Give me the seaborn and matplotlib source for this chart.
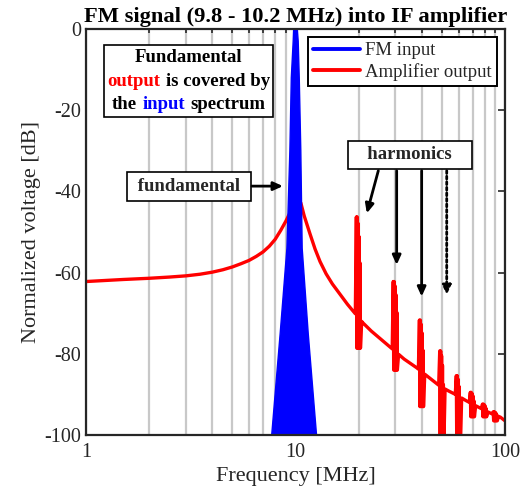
import numpy as np
import pandas as pd
import matplotlib
matplotlib.use("Agg")
import matplotlib.pyplot as plt
import seaborn as sns
from matplotlib.lines import Line2D
from matplotlib.ticker import NullFormatter, LogLocator
from matplotlib.offsetbox import TextArea, HPacker, VPacker, AnnotationBbox

# ---------------- data ----------------
# FM input spectrum outline (frequency MHz, level dB)
fm_freq = [7.7, 8.45, 9.1, 9.4, 9.55, 9.75, 9.8, 10.2, 10.3, 10.42, 10.6, 10.76, 11.5, 12.6]
fm_db = [-100, -75, -54, -30, -12, -3, 0, 0, -3, -12, -30, -54, -75, -100]

# amplifier output baseline (frequency MHz, level dB)
base_freq = [1.0, 1.5, 2.0, 2.5, 3.0, 3.5, 4.0, 4.5, 5.0, 5.5, 6.0, 6.5, 7.0, 7.5, 8.0,
             8.5, 9.0, 9.3, 9.6, 10.0, 10.3, 10.6, 11.0, 11.7, 12.4, 13.1, 14.0, 15.0,
             16.3, 17.7, 19.2, 21.0, 23.0, 25.0, 27.0, 29.3, 33.0, 37.8, 43.0, 49.0,
             54.0, 58.5, 65.0, 75.0, 85.0, 95.0, 100.0]
base_db = [-62.2, -61.7, -61.4, -61.1, -60.8, -60.4, -59.9, -59.3, -58.6, -57.8, -57.0,
           -56.0, -54.9, -53.5, -51.8, -49.6, -47.3, -45.8, -44.6, -44.0, -43.5, -42.8,
           -46.0, -50.3, -54.2, -57.3, -60.3, -62.8, -65.3, -67.8, -70.0, -72.4, -74.4,
           -76.0, -77.5, -79.0, -81.3, -83.4, -85.7, -88.0, -89.2, -90.1, -91.5, -93.2,
           -94.6, -95.6, -96.5]

# harmonics: order, spike top, spike bottom (dB)
harm_order = [2, 3, 4, 5, 6, 7, 8, 9]
harm_top = [-46.3, -62.2, -71.7, -79.3, -85.4, -89.5, -92.4, -94.3]
harm_bottom = [-78.6, -84.0, -93.0, -103.0, -103.0, -95.5, -95.5, -96.5]

# ---------------- build red trace ----------------
def base_at(f):
    return np.interp(np.log10(f), np.log10(base_freq), base_db)

rel = [0.965, 0.976, 0.981, 0.986, 0.991, 0.996, 1.001, 1.006, 1.011, 1.016, 1.021, 1.035]
spikes = []
for n, t, b in zip(harm_order, harm_top, harm_bottom):
    f0 = 10.0 * n
    lev = [base_at(f0 * rel[0]), t, b, t, b, t + 0.05 * (b - t), b, t + 0.15 * (b - t), b,
           t + 0.35 * (b - t), b, base_at(f0 * rel[-1])]
    spikes.append((f0, [f0 * r for r in rel], lev))

rf, rd = [], []
si = 0
for f, d in zip(base_freq, base_db):
    while si < len(spikes) and f > spikes[si][0] * rel[-1]:
        rf += spikes[si][1]
        rd += spikes[si][2]
        si += 1
    if si < len(spikes) and spikes[si][0] * rel[0] <= f <= spikes[si][0] * rel[-1]:
        continue
    rf.append(f)
    rd.append(d)
while si < len(spikes):
    rf = rf[:-1] + spikes[si][1] + rf[-1:]
    rd = rd[:-1] + spikes[si][2] + rd[-1:]
    si += 1

red_df = pd.DataFrame({"f": rf, "db": rd})
blue_df = pd.DataFrame({"f": fm_freq, "db": fm_db})

# ---------------- plot ----------------
sns.set_style("white")
plt.rcParams["font.family"] = ["Liberation Serif", "DejaVu Serif"]
plt.rcParams["axes.unicode_minus"] = False
dark = "#262626"

fig = plt.figure(figsize=(5.21, 4.99), dpi=100)
ax = fig.add_axes([86 / 521, 64 / 499, 419 / 521, 406 / 499])

sns.lineplot(data=red_df, x="f", y="db", sort=False, estimator=None, color="red",
             lw=2.4, ax=ax, zorder=3, legend=False)
ax.fill(fm_freq, fm_db, color="blue", zorder=4, lw=0)
sns.lineplot(data=blue_df, x="f", y="db", sort=False, estimator=None, color="blue",
             lw=1.0, ax=ax, zorder=4, legend=False)

ax.set_xscale("log")
ax.set_xlim(1, 100)
ax.set_ylim(-100, 0)
ax.set_xticks([1, 10, 100], labels=["1", "10", "100"])
ax.xaxis.set_minor_locator(LogLocator(base=10, subs=np.arange(2, 10)))
ax.xaxis.set_minor_formatter(NullFormatter())
ax.set_yticks([-100, -80, -60, -40, -20, 0])
ax.xaxis.grid(True, which="both", color="#c8c8c8", lw=1.6)
ax.yaxis.grid(False)
ax.set_axisbelow(True)
ax.tick_params(which="both", direction="in", top=True, right=True, color=dark,
               labelcolor=dark, labelsize=14.5, width=1.2)
ax.tick_params(which="major", length=5)
ax.tick_params(which="minor", length=3)
ax.tick_params(axis="x", pad=6)
for s in ax.spines.values():
    s.set_color(dark)
    s.set_linewidth(1.6)
    s.set_zorder(6)

ax.set_xlabel("Frequency [MHz]", fontsize=16, color=dark, labelpad=3)
ax.set_ylabel("Normalized voltage [dB]", fontsize=16, color=dark, labelpad=2)
ax.set_title("FM signal (9.8 - 10.2 MHz) into IF amplifier", fontsize=16.2,
             fontweight="bold", color="black", pad=5)

handles = [Line2D([], [], color="blue", lw=2.8), Line2D([], [], color="red", lw=2.8)]
leg = ax.legend(handles, ["FM input", "Amplifier output"], loc="upper right",
                fontsize=13.5, frameon=True, fancybox=False, framealpha=1,
                edgecolor="black", borderaxespad=0.45, handlelength=2.5,
                handletextpad=0.3, borderpad=0.25, labelspacing=0.2)
leg.get_frame().set_linewidth(1.4)
leg.set_zorder(7)

# text box with coloured words
tp = dict(fontsize=13.5, fontweight="bold", family="Liberation Serif")
l1 = TextArea("Fundamental", textprops=dict(color="black", **tp))
l2 = HPacker(children=[TextArea("output", textprops=dict(color="red", **tp)),
                       TextArea("is covered by", textprops=dict(color="black", **tp))],
             pad=0, sep=4)
l3 = HPacker(children=[TextArea("the", textprops=dict(color="black", **tp)),
                       TextArea("input", textprops=dict(color="blue", **tp)),
                       TextArea("spectrum", textprops=dict(color="black", **tp))],
             pad=0, sep=4)
vb = VPacker(children=[l1, l2, l3], align="center", pad=0, sep=5)
ab = AnnotationBbox(vb, (188.5 / 521, 418 / 499), xycoords="figure fraction",
                    box_alignment=(0.5, 0.5), frameon=True, pad=0.25,
                    bboxprops=dict(edgecolor="black", facecolor="white", lw=1.2,
                                   boxstyle="square,pad=0.25"))
ab.set_zorder(7)
ax.add_artist(ab)

bb = dict(boxstyle="square,pad=0.3", fc="white", ec="black", lw=1.2)
ax.text(3.10, -38.8, " fundamental ", fontsize=13.5, fontweight="bold", ha="center",
        va="center", bbox=bb, zorder=7)
ax.text(35.1, -31.0, "   harmonics   ", fontsize=13.5, fontweight="bold", ha="center",
        va="center", bbox=bb, zorder=7)

ap = dict(arrowstyle="-|>,head_length=0.55,head_width=0.25", color="black", lw=2,
          shrinkA=0, shrinkB=0)
ax.annotate("", xy=(8.71, -38.7), xytext=(6.2, -38.7), arrowprops=ap, zorder=7)
ax.annotate("", xy=(21.9, -45.4), xytext=(24.85, -34.9), arrowprops=ap, zorder=7)
ax.annotate("", xy=(30.4, -58.1), xytext=(30.4, -34.9), arrowprops=ap, zorder=7)
ax.annotate("", xy=(40.0, -65.9), xytext=(40.0, -34.9), arrowprops=ap, zorder=7)
apd = dict(ap, linestyle=(0, (1, 1)))
ax.annotate("", xy=(52.7, -65.5), xytext=(52.7, -34.9), arrowprops=apd, zorder=7)

fig.savefig("out.png", dpi=100)
